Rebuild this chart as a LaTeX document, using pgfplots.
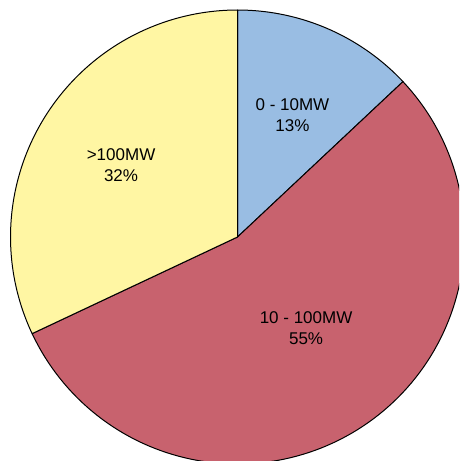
\documentclass[border=0pt]{standalone}
\usepackage{fontspec}
\setmainfont{Liberation Sans}
\usepackage{pgfplots}
\pgfplotsset{compat=1.18}
\definecolor{pieblue}{RGB}{153,189,227}
\definecolor{piered}{RGB}{200,98,110}
\definecolor{pieyellow}{RGB}{255,246,163}
% shares in percent
\def\pA{13}   % 0 - 10MW
\def\pB{55}   % 10 - 100MW
\def\pC{32}   % >100MW
\begin{document}
\begin{tikzpicture}
\begin{axis}[
  hide axis, scale only axis, clip=true,
  width=459pt, height=461pt,
  xmin=-1.0463, xmax=0.9758, ymin=-0.9868, ymax=1.0441,
  samples=120, variable=\t,
  every axis plot/.append style={draw=black, line width=1pt, line join=round},
]
\pgfmathsetmacro{\sA}{90}
\pgfmathsetmacro{\eA}{90-3.6*\pA}
\pgfmathsetmacro{\eB}{\eA-3.6*\pB}
\pgfmathsetmacro{\eC}{\eB-3.6*\pC}
\addplot[fill=pieblue, domain=\eA:\sA] ({cos(\t)},{sin(\t)}) -- (axis cs:0,0) -- cycle;
\addplot[fill=piered, domain=\eB:\eA] ({cos(\t)},{sin(\t)}) -- (axis cs:0,0) -- cycle;
\addplot[fill=pieyellow, domain=\eC:\eB] ({cos(\t)},{sin(\t)}) -- (axis cs:0,0) -- cycle;
\node[align=center, font=\fontsize{17}{21}\selectfont] at (axis cs:0.242,0.537) {0 - 10MW\\13\%};
\node[align=center, font=\fontsize{17}{21}\selectfont] at (axis cs:0.302,-0.401) {10 - 100MW\\55\%};
\node[align=center, font=\fontsize{17}{21}\selectfont] at (axis cs:-0.513,0.317) {>100MW\\32\%};
\end{axis}
\pgfresetboundingbox
\path[use as bounding box] (current axis.south west) rectangle (current axis.north east);
\end{tikzpicture}
\end{document}
